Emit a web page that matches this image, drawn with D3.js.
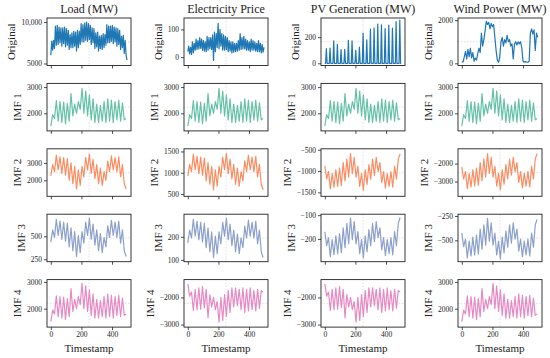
<!DOCTYPE html>
<html>
<head>
<meta charset="utf-8">
<script src="https://cdn.jsdelivr.net/npm/d3@7"></script>
<style>
  body { margin: 0; background: #fff; }
  text { font-family: "Liberation Serif", serif; }
</style>
</head>
<body>
<svg id="chart" width="550" height="358"></svg>
<script>
// column titles, row labels, colours
const columnTitles = ["Load (MW)", "Electricity Price", "PV Generation (MW)", "Wind Power (MW)"];
const rowLabels = ["Original", "IMF 1", "IMF 2", "IMF 3", "IMF 4"];
const rowColors = ["#1f77b4", "#66c2a5", "#fc8d62", "#8da0cb", "#e78ac3"];
const xTicks = [0, 200, 400];

// original series (load and price every 6 steps, wind every 8)
const loadOriginal = [
    6000, 7700, 6600, 7800, 6800, 9500, 7200, 9600, 7300, 9400, 7500, 9300,
    7100, 9300, 7400, 9400, 7000, 9200, 7200, 9000, 6700, 8500, 6900, 8700,
    6900, 8900, 7100, 8800, 6500, 9000, 6900, 8900, 7300, 9800, 7600, 9700,
    7600, 9900, 7800, 10000, 7700, 9800, 7900, 9600, 7300, 9300, 7500, 9200,
    6800, 8700, 7000, 8800, 6500, 8300, 6800, 8400, 6700, 8600, 6900, 8500,
    7200, 9700, 7500, 9500, 7500, 9500, 7700, 9600, 7400, 9400, 7600, 9300,
    7100, 9200, 7300, 9000, 6700, 8300, 6900, 8400, 6200, 7800, 6000, 5400];
const priceOriginal = [
    20, 40, 12, 35, 10, 55, 15, 50, 25, 65, 28, 60,
    30, 70, 32, 65, 25, 60, 22, 55, 20, 75, 25, 70,
    30, 70, 28, 80, -12, 90, 20, 85, 35, 122, 30, 100,
    40, 85, 25, 80, 25, 75, 28, 70, 20, 60, 22, 55,
    15, 55, 18, 50, 20, 50, 22, 60, 25, 85, 28, 70,
    30, 75, 30, 65, 25, 60, 25, 55, 20, 65, 25, 60,
    25, 55, 22, 50, 20, 60, 20, 50, 15, 45, 18, 35];
const pvDailyPeaks = [112, 116, 172, 145, 104, 106, 176, 172, 100, 124, 232, 180, 262, 270, 300, 295, 266, 292, 270, 320, 330];
const windOriginal = [80, 60, 300, 550, 200, 650, 300, 700, 250, 500, 100, 250, 150, 450, 700, 500, 1400, 800, 1100, 1500, 1950, 1800, 1900, 1600, 1850, 1700, 1800, 1200, 600, 150, 50, 300, 1000, 1200, 800, 1100, 950, 1300, 1000, 1100, 800, 900, 200, 900, 1000, 850, 1000, 900, 1000, 700, 100, 50, 80, 60, 50, 100, 1400, 1600, 1350, 1550, 600, 1400, 1200];

// IMF 1 (same in all four columns), every 12 steps
const imf1 = [1520, 1950, 1800, 2480, 1700, 2450, 1650, 2430, 1600, 2380, 1700, 2750, 1900, 2350, 2000, 2450, 2150, 2950, 2000, 2850, 1900, 2700, 1750, 2550, 1650, 2350, 1650, 2300, 1700, 2450, 1650, 2550, 1700, 2500, 1650, 2450, 1750, 2500, 1700, 2400, 1750, 1800];

// IMF 2
const imf2Load = [2250, 2900, 2500, 3450, 2600, 3350, 2400, 3300, 2300, 3250, 2000, 3000, 1800, 2800, 1500, 2600, 1700, 2800, 2200, 3300, 2600, 3500, 2400, 3200, 2100, 2900, 1800, 2700, 1700, 2500, 2000, 3100, 2500, 3400, 2600, 3300, 2500, 3350, 2200, 2900, 1800, 1500];
const imf2Price = [920, 1195, 1025, 1430, 1070, 1385, 980, 1365, 940, 1345, 810, 1240, 730, 1150, 600, 1070, 685, 1150, 900, 1365, 1070, 1450, 980, 1320, 855, 1195, 730, 1110, 685, 1025, 810, 1280, 1025, 1410, 1070, 1365, 1025, 1385, 900, 1195, 730, 600];
const imf2Pv = [-880, -1180, -1010, -1420, -1060, -1380, -970, -1360, -930, -1340, -800, -1230, -720, -1140, -590, -1060, -680, -1140, -890, -1360, -1060, -1450, -970, -1310, -850, -1190, -720, -1100, -680, -1010, -800, -1270, -1010, -1400, -1060, -1360, -1010, -1380, -890, -1190, -720, -600];
const imf2Wind = [-2200, -2850, -2450, -3400, -2550, -3300, -2350, -3250, -2250, -3200, -1950, -2950, -1750, -2750, -1450, -2550, -1650, -2750, -2150, -3250, -2550, -3450, -2350, -3150, -2050, -2850, -1750, -2650, -1650, -2450, -1950, -3050, -2450, -3350, -2550, -3250, -2450, -3300, -2150, -2850, -1750, -1450];

// IMF 3
const imf3Load = [436, 570, 488, 685, 508, 664, 467, 653, 446, 643, 384, 591, 342, 550, 280, 508, 321, 550, 425, 653, 508, 695, 467, 633, 404, 570, 342, 529, 321, 488, 384, 612, 488, 674, 508, 653, 488, 664, 425, 570, 342, 280];
const imf3Price = [174, 229, 195, 276, 203, 267, 187, 263, 178, 259, 153, 238, 135, 221, 110, 203, 127, 221, 169, 263, 203, 280, 187, 255, 161, 229, 135, 212, 127, 195, 153, 246, 195, 272, 203, 263, 195, 267, 169, 229, 135, 110];
const imf3Pv = [-170, -228, -195, -275, -203, -266, -187, -262, -178, -258, -153, -237, -135, -220, -112, -203, -127, -221, -169, -262, -203, -280, -187, -254, -161, -229, -135, -212, -127, -195, -153, -246, -195, -271, -203, -262, -195, -267, -169, -229, -135, -110];
const imf3Wind = [-425, -565, -488, -680, -508, -660, -467, -650, -446, -640, -384, -590, -342, -550, -275, -508, -321, -550, -425, -650, -508, -690, -467, -630, -404, -570, -342, -529, -321, -488, -384, -610, -488, -670, -508, -650, -488, -660, -425, -570, -342, -285];

// IMF 4
const imf4Load = imf1;
const imf4Price = [-1500, -1950, -1800, -2480, -1700, -2450, -1650, -2430, -1600, -2380, -1700, -2750, -1900, -2350, -2000, -2450, -2150, -2900, -2000, -2850, -1900, -2700, -1750, -2550, -1650, -2350, -1650, -2300, -1700, -2450, -1650, -2550, -1700, -2500, -1650, -2450, -1750, -2500, -1700, -2400, -1750, -1800];
const imf4Pv = imf4Price;
const imf4Wind = imf1;

// y ticks and y ranges per panel
const yTicks = [
    [[5000, 10000], [0, 100], [0, 200], [0, 2000]],
    [[2000, 3000], [2000, 3000], [2000, 3000], [2000, 3000]],
    [[2000, 3000], [500, 1000, 1500], [-1500, -1000, -500], [-3000, -2000]],
    [[250, 500], [100, 200], [-200, -100], [-500, -250]],
    [[2000, 3000], [-3000, -2000], [-3000, -2000], [2000, 3000]]
];
const yDomains = [
    [[4760, 10490], [-30, 141], [-17, 347], [-100, 2100]],
    [[1330, 3140], [1330, 3140], [1330, 3140], [1330, 3140]],
    [[1080, 3810], [447, 1562], [-1592, -477], [-3820, -1180]],
    [[223, 740], [92, 298], [-296, -96], [-719, -232]],
    [[1312, 3087], [-3093, -1343], [-3093, -1343], [1312, 3087]]
];

// build {t, v} points
const bySteps = (arr, step) => arr.map((v, i) => ({ t: i * step, v: v }));
const pvPoints = [{ t: 0, v: 0 }];
pvDailyPeaks.forEach((p, k) => {
    pvPoints.push({ t: 24 * k + 5, v: 0 }, { t: 24 * k + 10, v: p }, { t: 24 * k + 15, v: 0 });
});
pvPoints.push({ t: 499, v: 0 });

const grid = [
    [bySteps(loadOriginal, 6), bySteps(priceOriginal, 6), pvPoints, bySteps(windOriginal, 8)],
    [bySteps(imf1, 12), bySteps(imf1, 12), bySteps(imf1, 12), bySteps(imf1, 12)],
    [bySteps(imf2Load, 12), bySteps(imf2Price, 12), bySteps(imf2Pv, 12), bySteps(imf2Wind, 12)],
    [bySteps(imf3Load, 12), bySteps(imf3Price, 12), bySteps(imf3Pv, 12), bySteps(imf3Wind, 12)],
    [bySteps(imf4Load, 12), bySteps(imf4Price, 12), bySteps(imf4Pv, 12), bySteps(imf4Wind, 12)]
];

// layout
const colLeft = [47, 184, 321, 458], plotW = 84;
const rowTop = 18, rowStep = 65.4, plotH = 47.5;
const ink = "#222";

const svg = d3.select("#chart");

const fmt = v => {
    const s = Math.abs(v) >= 10000 ? d3.format(",")(v) : String(v);
    return s.replace("-", "\u2212");
};

grid.forEach((row, r) => {
    row.forEach((pts, c) => {
        const left = colLeft[c], top = rowTop + r * rowStep;
        const g = svg.append("g").attr("transform", `translate(${left},${top})`);

        const x = d3.scaleLinear().domain([-25, 524]).range([0, plotW]);
        const y = d3.scaleLinear().domain(yDomains[r][c]).range([plotH, 0]);

        // faint centre grid
        g.append("line").attr("x1", x(250)).attr("x2", x(250)).attr("y1", 0).attr("y2", plotH)
            .attr("stroke", "#ccc").attr("stroke-width", 0.6).attr("stroke-dasharray", "1.5,1.5");
        g.append("line").attr("x1", 0).attr("x2", plotW).attr("y1", plotH / 2).attr("y2", plotH / 2)
            .attr("stroke", "#ccc").attr("stroke-width", 0.6).attr("stroke-dasharray", "1.5,1.5");

        // series line
        g.append("path")
            .datum(pts)
            .attr("fill", "none")
            .attr("stroke", rowColors[r])
            .attr("stroke-width", 1.2)
            .attr("stroke-linejoin", "round")
            .attr("d", d3.line().x(d => x(d.t)).y(d => y(d.v)));

        // axes
        const xAxis = g.append("g").attr("transform", `translate(0,${plotH})`)
            .call(d3.axisBottom(x).tickValues(xTicks).tickSize(3).tickPadding(2)
                .tickFormat(r === grid.length - 1 ? fmt : ""));
        const yAxis = g.append("g")
            .call(d3.axisLeft(y).tickValues(yTicks[r][c]).tickSize(3).tickPadding(2).tickFormat(fmt));
        [xAxis, yAxis].forEach(a => {
            a.attr("font-family", null).attr("font-size", null);
            a.select(".domain").remove();
            a.selectAll("line").attr("stroke", ink).attr("stroke-width", 0.8);
            a.selectAll("text").attr("fill", ink).style("font-size", "7.5px");
        });

        // frame
        g.append("rect").attr("width", plotW).attr("height", plotH)
            .attr("fill", "none").attr("stroke", ink).attr("stroke-width", 0.9);

        // y label left of the tick labels
        const bb = yAxis.node().getBBox();
        g.append("text")
            .attr("transform", `translate(${bb.x - 6},${plotH / 2}) rotate(-90)`)
            .attr("text-anchor", "middle")
            .attr("fill", ink)
            .style("font-size", "11px")
            .text(rowLabels[r]);

        if (r === 0) {
            g.append("text").attr("x", plotW / 2).attr("y", -5)
                .attr("text-anchor", "middle").attr("fill", ink)
                .style("font-size", "12px")
                .text(columnTitles[c]);
        }
        if (r === grid.length - 1) {
            g.append("text").attr("x", plotW / 2).attr("y", plotH + 25)
                .attr("text-anchor", "middle").attr("fill", ink)
                .style("font-size", "11px")
                .text("Timestamp");
        }
    });
});
</script>
</body>
</html>
